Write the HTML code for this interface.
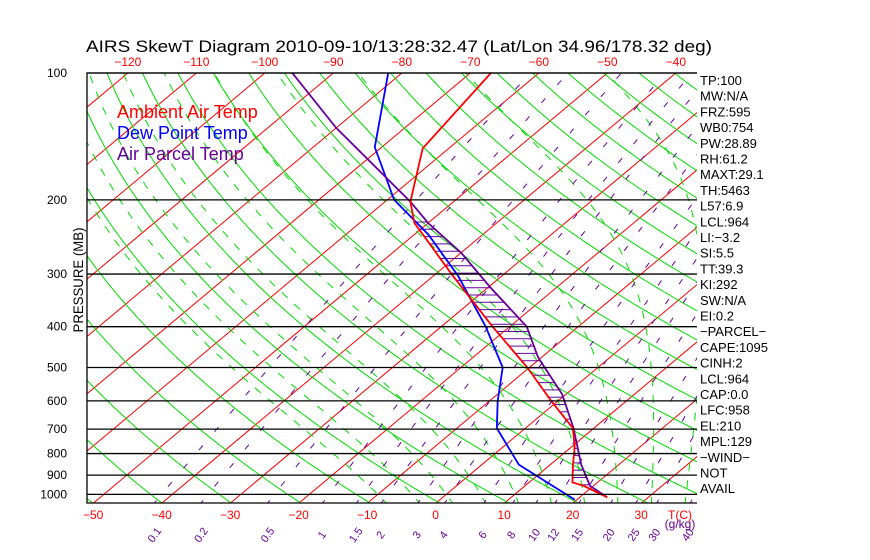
<!DOCTYPE html>
<html><head><meta charset="utf-8"><style>
html,body{margin:0;padding:0;background:#fff;}
svg{display:block;font-family:"Liberation Sans",sans-serif;}
</style></head><body>
<svg id="c" width="870" height="560" viewBox="0 0 870 560">
<defs><clipPath id="clip"><rect x="87" y="73" width="610" height="430"/></clipPath></defs>
<rect x="0" y="0" width="870" height="560" fill="#fff"/>
<text x="86" y="52" font-size="17" textLength="626" lengthAdjust="spacingAndGlyphs" fill="#000">AIRS SkewT Diagram 2010-09-10/13:28:32.47 (Lat/Lon 34.96/178.32 deg)</text>
<g id="grid" clip-path="url(#clip)"></g>
<g id="data" clip-path="url(#clip)"></g>
<g id="axes"></g>
<text x="117" y="118" font-size="18" fill="#ff0000">Ambient Air Temp</text>
<text x="117" y="139" font-size="18" fill="#0000ff">Dew Point Temp</text>
<text x="117" y="160" font-size="18" fill="#660099">Air Parcel Temp</text>
<text transform="translate(83,280) rotate(-90)" text-anchor="middle" font-size="14" textLength="105" lengthAdjust="spacingAndGlyphs" fill="#000">PRESSURE (MB)</text>
<g id="stats"></g>
</svg>
<script>
// ---- data ----
const pressureTicks = [100,200,300,400,500,600,700,800,900,1000];
const bottomTempTicks = [-50,-40,-30,-20,-10,0,10,20,30];
const topTempTicks = [-120,-110,-100,-90,-80,-70,-60,-50,-40];
const mixRatios = [0.1,0.2,0.5,1,1.5,2,3,4,6,8,10,12,15,20,25,30,40];
const envP = [100,151,202,227,242,301,400,500,600,696,770,850,936,955,1016];
const envT = [-67,-63.8,-56.3,-52,-48.7,-37.5,-22.5,-10.3,-1.0,6.9,10.4,13.3,16.3,18.6,24];
const dewP = [100,150,200,242,303,400,500,600,696,850,1030];
const dewT = [-82,-71,-59,-47.9,-36.4,-23.5,-13.9,-8.8,-4.2,5.4,19.7];
const parP = [100,135,202,227,267,322,400,473,578,696,850,955,1016];
const parT = [-96,-80,-56.3,-50,-40,-29.8,-17.5,-10.5,-0.6,7,14.5,19.5,24];
const statLines = ["TP:100","MW:N/A","FRZ:595","WB0:754","PW:28.89","RH:61.2","MAXT:29.1","TH:5463","L57:6.9","LCL:964","LI:\u22123.2","SI:5.5","TT:39.3","KI:292","SW:N/A","EI:0.2","\u2212PARCEL\u2212","CAPE:1095","CINH:2","LCL:964","CAP:0.0","LFC:958","EL:210","MPL:129","\u2212WIND\u2212","NOT","AVAIL"];

// ---- axes functions ----
const L=87,R=697,T0=73,B=503;
function yOf(p){return T0+183*Math.log(p/100);}
function xOf(t,p){return 436+6.85*t+1.195*(B-yOf(p));}
const NS="http://www.w3.org/2000/svg";
function mk(tag,attrs,parent){const e=document.createElementNS(NS,tag);for(const k in attrs)e.setAttribute(k,attrs[k]);parent.appendChild(e);return e;}
const grid=document.getElementById('grid'),data=document.getElementById('data'),axes=document.getElementById('axes'),stats=document.getElementById('stats');
const pSteps=[];for(let p=1060;p>=95;p-=5)pSteps.push(p);
function polyPts(fn){return pSteps.map(p=>xOf(fn(p),p).toFixed(1)+","+yOf(p).toFixed(1)).join(" ");}

// isotherms
for(let t=-170;t<=50;t+=10){
  const l=mk('line',{x1:xOf(t,1060),y1:yOf(1060),x2:xOf(t,95),y2:yOf(95),stroke:'#ff0000','stroke-width':1},grid);
  
  
}
// dry adiabats
for(let th=190;th<=520;th+=10){
  const e=mk('polyline',{points:polyPts(p=>th*Math.pow(p/1000,0.286)-273.15),fill:'none',stroke:'#00dd00','stroke-width':1},grid);
  
  
}
// moist adiabats
function es(tc){return 6.112*Math.exp(17.67*tc/(tc+243.5));}
function dTdp(T,p){const tc=T-273.15;const e_=es(tc);const rs=0.622*e_/(p-e_);return (287*T+2.5e6*rs)/(p*(1005+2.5e6*2.5e6*rs*0.622/(287*T*T)));}
for(let t0=-10;t0<=45;t0+=5){
  const res={};let T=t0+273.15;res[1000]=T;
  for(let p=1000;p>100;p-=5){T-=dTdp(T,p)*5;res[p-5]=T;}
  T=t0+273.15;for(let p=1000;p<1060;p+=5){T+=dTdp(T,p)*5;res[p+5]=T;}
  const s=pSteps.filter(p=>res[p]!==undefined).map(p=>xOf(res[p]-273.15,p).toFixed(1)+","+yOf(p).toFixed(1)).join(" ");
  const e=mk('polyline',{points:s,fill:'none',stroke:'#00dd00','stroke-width':1,'stroke-dasharray':'8,9'},grid);
  
  
}
// mixing ratio lines
function tdOf(w,p){const e=w*p/(622+w);const a=Math.log(e/6.112);return 243.5*a/(17.67-a);}
mixRatios.forEach(w=>{
  const e=mk('polyline',{points:polyPts(p=>tdOf(w,p)),fill:'none',stroke:'#660099','stroke-width':1,'stroke-dasharray':'6,18'},grid);
  
  
});
// pressure lines
pressureTicks.forEach(p=>{
  const l=mk('line',{x1:L,y1:yOf(p),x2:R,y2:yOf(p),stroke:'#000','stroke-width':1.3},axes);
  
  
  const t=mk('text',{x:67,y:yOf(p)+4,'font-size':12,'text-anchor':'end',fill:'#000'},axes);
  
  
  t.textContent=p;
});
const frame=mk('polyline',{points:`${R},${T0} ${L},${T0} ${L},${B} ${R},${B}`,fill:'none',stroke:'#000','stroke-width':1.3},axes);


bottomTempTicks.forEach(t=>{
  const e=mk('text',{x:xOf(t,1050),y:519,'font-size':12,'text-anchor':'middle',fill:'#ff0000'},axes);
  
  
  e.textContent=String(t).replace('-','\u2212');
});
const tc=mk('text',{x:680,y:519,'font-size':12,'text-anchor':'middle',fill:'#ff0000'},axes);


tc.textContent='T(C)';
topTempTicks.forEach(t=>{
  const e=mk('text',{x:xOf(t,100),y:66,'font-size':12,'text-anchor':'middle',fill:'#ff0000'},axes);
  
  
  e.textContent=String(t).replace('-','\u2212');
});
mixRatios.forEach(w=>{
  const x=xOf(tdOf(w,1000),1000)-4;
  const e=mk('text',{transform:`translate(${x.toFixed(1)},537) rotate(-55)`,'font-size':11,'text-anchor':'middle',fill:'#660099'},axes);
  
  
  e.textContent=w;
});
const gk=mk('text',{x:680,y:528,'font-size':12,'text-anchor':'middle',fill:'#660099'},axes);


gk.textContent='(g/kg)';

// series
function pix(P,Tt){return P.map((p,i)=>[xOf(Tt[i],p),yOf(p)]);}
function xAtY(pts,y){for(let i=0;i<pts.length-1;i++){const a=pts[i],b=pts[i+1];if((y-a[1])*(y-b[1])<=0&&a[1]!==b[1]){return a[0]+(b[0]-a[0])*(y-a[1])/(b[1]-a[1]);}}return null;}
const envPx=pix(envP,envT),parPx=pix(parP,parT),dewPx=pix(dewP,dewT);
for(let y=222;y<=492;y+=7.3){
  const xe=xAtY(envPx,y),xp=xAtY(parPx,y);
  if(xe!==null&&xp!==null&&xp>xe+1){
    const h=mk('line',{x1:xe,y1:y,x2:xp,y2:y,stroke:'#660099','stroke-width':1},data);
    
    
  }
}
[[dewPx,'#0000ff','dew-point-line'],[parPx,'#660099','parcel-line'],[envPx,'#ff0000','ambient-temp-line']].forEach(s=>{
  const e=mk('polyline',{points:s[0].map(q=>q[0].toFixed(1)+","+q[1].toFixed(1)).join(" "),fill:'none',stroke:s[1],'stroke-width':1.8},data);
  
  
});
// stats
statLines.forEach((s,i)=>{
  const e=mk('text',{x:700,y:85+i*15.7,'font-size':13,fill:'#000'},stats);
  
  
  e.textContent=s;
});
</script>
</body></html>
